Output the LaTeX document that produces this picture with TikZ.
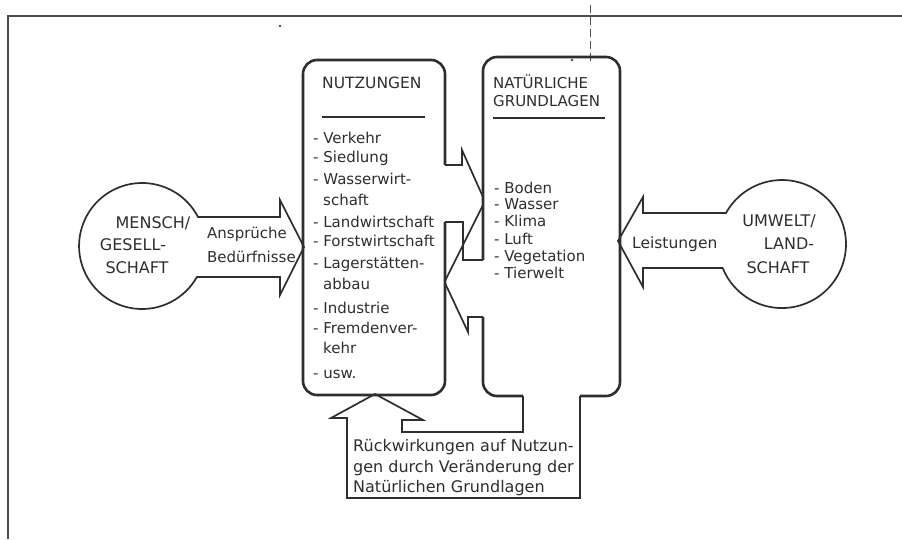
\documentclass[tikz,border=0pt]{standalone}
\usepackage{fontspec}
\setmainfont{DejaVu Sans}
\definecolor{ink}{gray}{0.18}
\begin{document}
\begin{tikzpicture}[x=1pt,y=-1pt,
  boxline/.style={line width=2.6pt, draw=ink, line join=round},
  thinline/.style={line width=1.7pt, draw=ink, line join=miter},
  frameline/.style={line width=1.2pt, draw=black!70},
  txt/.style={font=\fontsize{15}{18}\selectfont, inner sep=0pt, anchor=base west, text=ink},
  bigtxt/.style={font=\fontsize{16}{21}\selectfont, inner sep=0pt, anchor=base west, text=ink},
  ctxt/.style={font=\fontsize{16}{20}\selectfont, inner sep=0pt, anchor=base, text=ink}]
\useasboundingbox (0,0) rectangle (902,539);
% frame
\draw[frameline] (8,539) -- (8,16) -- (902,16);
\draw[line width=1pt, draw=black!70, dash pattern=on 8pt off 4pt] (590,5) -- (590,62);
\fill[black!70] (280,26) circle[radius=1.3] (572,60) circle[radius=1.3];
% left box NUTZUNGEN
\draw[boxline, rounded corners=14] (445,165) -- (445,60) -- (303,60) -- (303,395) -- (445,395) -- (445,222);
% right box NATUERLICHE GRUNDLAGEN
\draw[boxline, rounded corners=14] (483,260) -- (483,57) -- (620,57) -- (620,396) -- (580,396);
\draw[boxline, rounded corners=14] (523,396) -- (483,396) -- (483,317);
% feedback arrow
\draw[thinline] (580,396) -- (580,498) -- (347,498) -- (347,418) -- (331,418) -- (375,394) -- (423,420) -- (402,420) -- (402,432) -- (523,432) -- (523,396);
% arrows between boxes
\draw[thinline] (445,165) -- (462,165) -- (462,150) -- (483,197);
\draw[thinline] (483,205) -- (445,281);
\draw[thinline] (445,222) -- (463,222) -- (463,260) -- (483,260);
\draw[thinline] (445,283) -- (468,332) -- (468,317) -- (483,317);
% left circle with arrow
\draw[thinline] (198,217) arc[start angle=-27.4, end angle=-330.6, radius=63]
  -- (280,277) -- (280,295) -- (304,247) -- (280,200) -- (280,217) -- cycle;
% right circle with arrow
\draw[thinline] (726,213) arc[start angle=209, end angle=518, radius=64]
  -- (643,268) -- (643,287) -- (618,241) -- (643,197) -- (643,213) -- cycle;
% underlines
\draw[line width=2.6pt, draw=ink] (322,117) -- (425,117);
\draw[line width=2.6pt, draw=ink] (493,118) -- (605,118);
% titles
\node[txt, font=\fontsize{15.5}{18}\selectfont] (tN) at (322,88) {NUTZUNGEN};
\node[txt] (tG1) at (493,88) {NATÜRLICHE};
\node[txt] (tG2) at (493,106) {GRUNDLAGEN};
% left items
\node[txt] (n1) at (313,143) {- Verkehr};
\node[txt] (n2) at (313,162) {- Siedlung};
\node[txt] (n3) at (313,184) {- Wasserwirt-};
\node[txt] (n3b) at (323,205) {schaft};
\node[txt] (n4) at (313,227) {- Landwirtschaft};
\node[txt] (n5) at (313,246) {- Forstwirtschaft};
\node[txt] (n6) at (313,268) {- Lagerstätten-};
\node[txt] (n6b) at (323,289) {abbau};
\node[txt] (n7) at (313,313) {- Industrie};
\node[txt] (n8) at (313,333) {- Fremdenver-};
\node[txt] (n8b) at (323,353) {kehr};
\node[txt] (n9) at (313,378) {- usw.};
% right items
\node[txt] (g1) at (494,193) {- Boden};
\node[txt] (g2) at (494,209) {- Wasser};
\node[txt] (g3) at (494,226) {- Klima};
\node[txt] (g4) at (494,244) {- Luft};
\node[txt] (g5) at (494,261) {- Vegetation};
\node[txt] (g6) at (494,278) {- Tierwelt};
% arrow labels
\node[txt] (a1) at (207,238) {Ansprüche};
\node[txt] (a2) at (207,262) {Bedürfnisse};
\node[txt, font=\fontsize{15.5}{18}\selectfont] (a3) at (632,248) {Leistungen};
% circle texts
\node[ctxt] (m1) at (153,228) {MENSCH/};
\node[ctxt] (m2) at (133,250) {GESELL-};
\node[ctxt] (m3) at (137,273) {SCHAFT};
\node[ctxt] (u1) at (779,226) {UMWELT/};
\node[ctxt] (u2) at (789,249) {LAND-};
\node[ctxt] (u3) at (778,273) {SCHAFT};
% feedback text
\node[bigtxt] (f1) at (353,451) {Rückwirkungen auf Nutzun-};
\node[bigtxt] (f2) at (353,472) {gen durch Veränderung der};
\node[bigtxt] (f3) at (353,492) {Natürlichen Grundlagen};
\end{tikzpicture}
\end{document}
